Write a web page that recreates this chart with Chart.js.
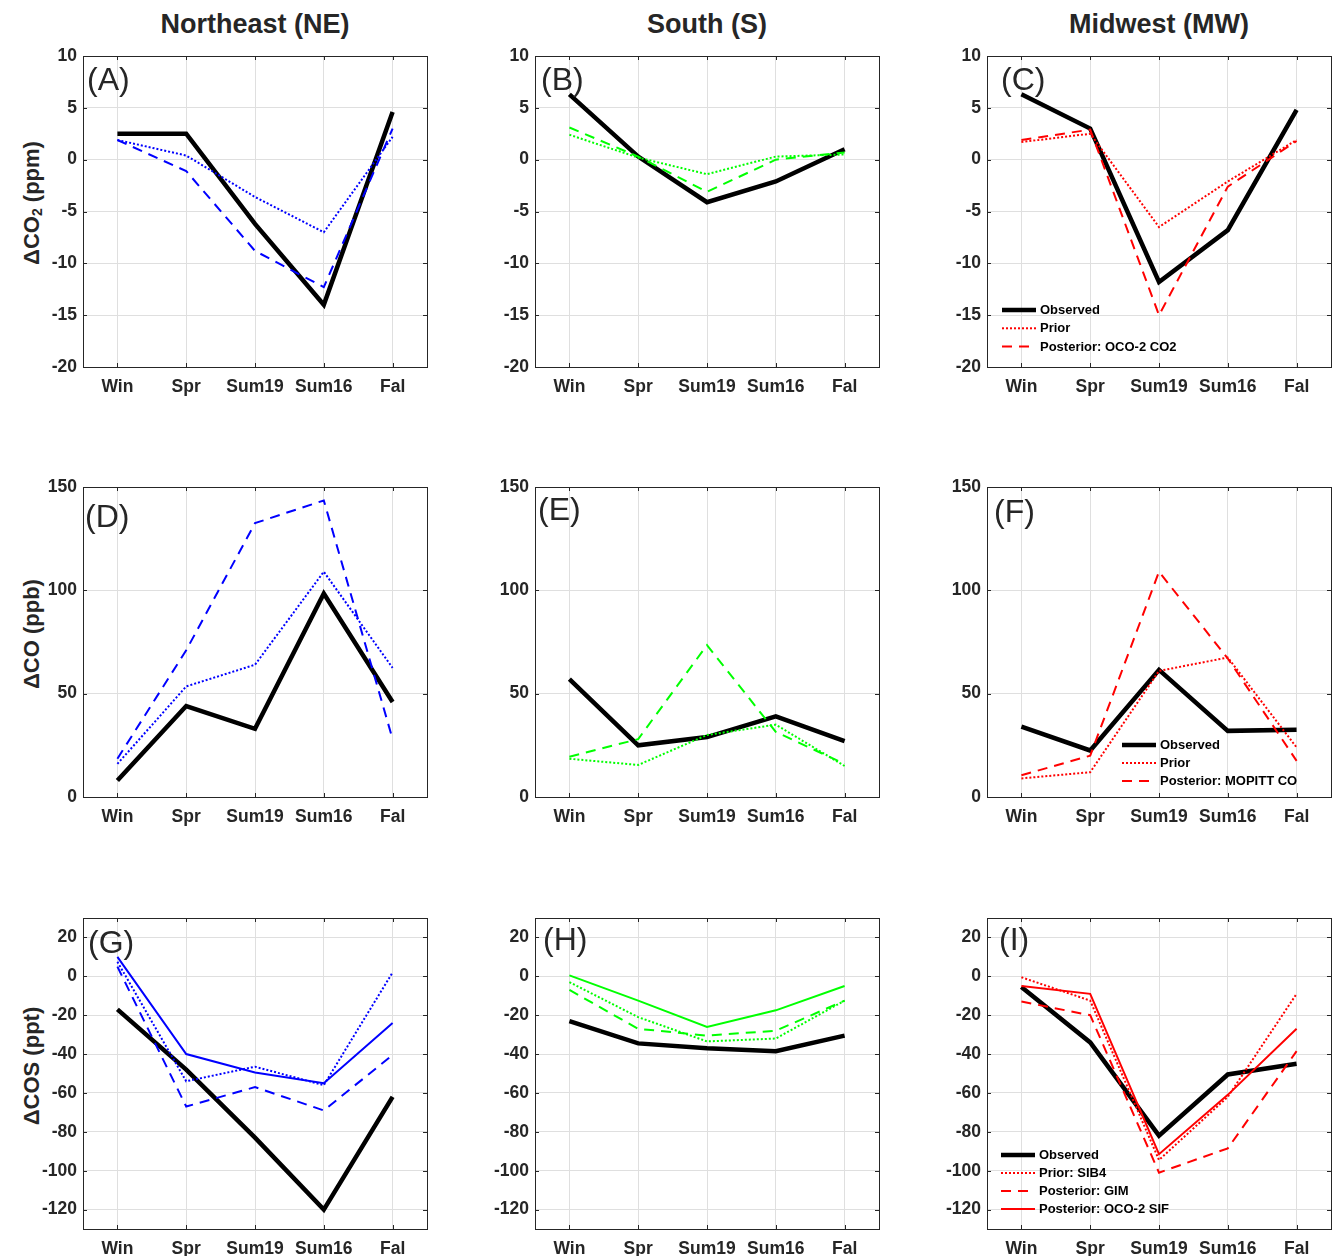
<!DOCTYPE html>
<html><head><meta charset="utf-8">
<script src="https://cdn.jsdelivr.net/npm/chart.js@4.4.1/dist/chart.umd.min.js"></script>
<style>
html,body{margin:0;padding:0;background:#fff;overflow:hidden;width:1332px;height:1256px;}
canvas{position:absolute;}
.title{position:absolute;font:bold 27px 'Liberation Sans',Arial,sans-serif;color:#262626;line-height:27px;white-space:nowrap;transform:translateX(-50%);}
.ylab{position:absolute;font:bold 22px 'Liberation Sans',Arial,sans-serif;color:#262626;line-height:22px;white-space:nowrap;transform:translate(-50%,-50%) rotate(-90deg);}
.ylab sub{font-size:14px;vertical-align:-3px;line-height:0;}
</style></head><body>
<script>
// ---------- DATA ----------
const seasons = ['Win', 'Spr', 'Sum19', 'Sum16', 'Fal'];

// ΔCO2 (ppm)
const co2_NE_obs   = [2.5, 2.5, -6.2, -14.0, 4.6];
const co2_NE_prior = [1.9, 0.4, -3.6, -7.0, 2.2];
const co2_NE_post  = [1.9, -1.1, -8.8, -12.3, 3.0];
const co2_S_obs    = [6.3, 0.3, -4.1, -2.1, 1.0];
const co2_S_prior  = [2.4, 0.2, -1.4, 0.3, 0.5];
const co2_S_post   = [3.1, 0.3, -3.1, 0.0, 0.7];
const co2_MW_obs   = [6.3, 3.0, -11.8, -6.8, 4.8];
const co2_MW_prior = [1.7, 2.5, -6.5, -2.1, 1.9];
const co2_MW_post  = [1.9, 2.9, -15.0, -2.6, 1.8];

// ΔCO (ppb)
const co_NE_obs   = [8, 44, 33, 98.5, 46];
const co_NE_prior = [16, 53.5, 64, 109, 62.5];
const co_NE_post  = [18.5, 71, 132.5, 143.5, 28];
const co_S_obs    = [57, 25, 29, 39, 27];
const co_S_prior  = [18.5, 15.5, 30, 35, 15];
const co_S_post   = [19.5, 28, 73.5, 31.5, 16];
const co_MW_obs   = [34, 22.5, 61.5, 32, 32.5];
const co_MW_prior = [9, 12, 61, 67.5, 24];
const co_MW_post  = [10.5, 20, 109, 67, 17.5];

// ΔCOS (ppt)
const cos_NE_obs   = [-17, -48, -83, -120, -62];
const cos_NE_prior = [7.5, -54, -46.5, -56, 2];
const cos_NE_gim   = [5, -67, -57, -69, -40.5];
const cos_NE_sif   = [10, -40, -49.5, -55, -24];
const cos_S_obs    = [-23, -34.5, -37, -38.5, -30.5];
const cos_S_prior  = [-3, -21, -33.5, -32, -12.5];
const cos_S_gim    = [-7, -27, -30.5, -28, -12.5];
const cos_S_sif    = [0.5, -12.5, -26, -17.5, -5];
const cos_MW_obs   = [-5.5, -34, -82, -50.5, -45];
const cos_MW_prior = [-0.5, -12.5, -94.5, -62, -9];
const cos_MW_gim   = [-13, -20, -101, -88.5, -38.5];
const cos_MW_sif   = [-5, -9, -91.5, -61, -27];

// tick labels
const ticksCO2 = [-20, -15, -10, -5, 0, 5, 10];
const ticksCO  = [0, 50, 100, 150];
const ticksCOS = [-120, -100, -80, -60, -40, -20, 0, 20];

const regionTitles = ['Northeast (NE)', 'South (S)', 'Midwest (MW)'];
const panelLetters = ['(A)', '(B)', '(C)', '(D)', '(E)', '(F)', '(G)', '(H)', '(I)'];
const labelsCO2 = ['Observed', 'Prior', 'Posterior: OCO-2 CO2'];
const labelsCO  = ['Observed', 'Prior', 'Posterior: MOPITT CO'];
const labelsCOS = ['Observed', 'Prior: SIB4', 'Posterior: GIM', 'Posterior: OCO-2 SIF'];

// ---------- LAYOUT / STYLE ----------
const FONT = "'Liberation Sans', Arial, sans-serif";
const colL = [83, 535, 987];
const rowT = [56, 487, 918];
const PW = 344;
const PH = [311, 310, 311];
const YW = 80, PT = 24, XH = 40, PR = 4;
const regionColor = ['#0000ff', '#00ff00', '#ff0000'];
const rowRange = [[-20, 10], [0, 150], [-130, 30]];
const rowTicks = [ticksCO2, ticksCO, ticksCOS];
const letterPos = [[4, 34], [6, 34], [14, 34], [2, 40], [3, 33], [7, 35], [5, 35], [8, 32], [12, 32]];
const legendCfg = {2: {x: 15, y: 254, dy: 18.3}, 5: {x: 135, y: 258, dy: 18}, 8: {x: 14, y: 237, dy: 18}};

const rowData = [
  [[co2_NE_obs, co2_NE_prior, co2_NE_post], [co2_S_obs, co2_S_prior, co2_S_post], [co2_MW_obs, co2_MW_prior, co2_MW_post]],
  [[co_NE_obs, co_NE_prior, co_NE_post], [co_S_obs, co_S_prior, co_S_post], [co_MW_obs, co_MW_prior, co_MW_post]],
  [[cos_NE_obs, cos_NE_prior, cos_NE_gim, cos_NE_sif], [cos_S_obs, cos_S_prior, cos_S_gim, cos_S_sif], [cos_MW_obs, cos_MW_prior, cos_MW_gim, cos_MW_sif]]
];
const rowLabels = [labelsCO2, labelsCO, labelsCOS];
const styleKinds = ['obs', 'prior', 'post', 'solid'];

function dsStyle(kind, color) {
  if (kind === 'obs') return {borderColor: '#000000', borderWidth: 4.5, borderDash: [], order: 1};
  if (kind === 'prior') return {borderColor: color, borderWidth: 2, borderDash: [2, 2], order: 0};
  if (kind === 'post') return {borderColor: color, borderWidth: 2, borderDash: [10, 7], order: 0};
  return {borderColor: color, borderWidth: 2, borderDash: [], order: 0};
}

const framePlugin = {
  id: 'frame',
  afterDraw(chart, args, opts) {
    const ctx = chart.ctx, a = chart.chartArea;
    ctx.save();
    ctx.strokeStyle = '#262626';
    ctx.lineWidth = 1;
    ctx.setLineDash([]);
    ctx.strokeRect(Math.round(a.left) + 0.5, Math.round(a.top) + 0.5, Math.round(a.right - a.left), Math.round(a.bottom - a.top));
    const tl = 4;
    ctx.beginPath();
    chart.scales.y.ticks.forEach(t => {
      const y = Math.round(chart.scales.y.getPixelForValue(t.value)) + 0.5;
      ctx.moveTo(a.left, y); ctx.lineTo(a.left + tl, y);
      ctx.moveTo(a.right, y); ctx.lineTo(a.right - tl, y);
    });
    chart.scales.x.ticks.forEach((t, i) => {
      const x = Math.round(chart.scales.x.getPixelForTick(i)) + 0.5;
      ctx.moveTo(x, a.bottom); ctx.lineTo(x, a.bottom - tl);
      ctx.moveTo(x, a.top); ctx.lineTo(x, a.top + tl);
    });
    ctx.stroke();
    // panel letter
    ctx.fillStyle = '#262626';
    ctx.font = '32px ' + FONT;
    ctx.textBaseline = 'alphabetic';
    ctx.textAlign = 'left';
    ctx.fillText(opts.letter, a.left + opts.lx, a.top + opts.ly);
    // legend
    if (opts.legend) {
      const L = opts.legend;
      chart.data.datasets.forEach((ds, i) => {
        const y = a.top + L.y + i * L.dy;
        const x0 = a.left + L.x;
        ctx.beginPath();
        ctx.strokeStyle = ds.borderColor;
        ctx.lineWidth = ds.borderWidth;
        ctx.setLineDash(ds.borderDash);
        ctx.moveTo(x0, y); ctx.lineTo(x0 + 34, y);
        ctx.stroke();
        ctx.setLineDash([]);
        ctx.fillStyle = '#000000';
        ctx.font = 'bold 13px ' + FONT;
        ctx.textBaseline = 'middle';
        ctx.fillText(ds.label, x0 + 38, y + 0.5);
      });
    }
    ctx.restore();
  }
};

// titles
regionTitles.forEach((t, c) => {
  const d = document.createElement('div');
  d.className = 'title';
  d.textContent = t;
  d.style.left = (colL[c] + PW / 2) + 'px';
  d.style.top = '11px';
  document.body.appendChild(d);
});
const yTitles = [['ΔCO', '2', ' (ppm)'], ['ΔCO (ppb)'], ['ΔCOS (ppt)']];
const yTitleCenter = [203, 634, 1066];
yTitles.forEach((parts, r) => {
  const d = document.createElement('div');
  d.className = 'ylab';
  if (parts.length === 3) {
    d.appendChild(document.createTextNode(parts[0]));
    const s = document.createElement('sub'); s.textContent = parts[1]; d.appendChild(s);
    d.appendChild(document.createTextNode(parts[2]));
  } else d.textContent = parts[0];
  d.style.left = '32px';
  d.style.top = yTitleCenter[r] + 'px';
  document.body.appendChild(d);
});

for (let r = 0; r < 3; r++) {
  for (let c = 0; c < 3; c++) {
    const idx = r * 3 + c;
    const cv = document.createElement('canvas');
    const w = YW + PW + PR, h = PT + PH[r] + XH;
    cv.width = w; cv.height = h;
    cv.style.width = w + 'px'; cv.style.height = h + 'px';
    cv.style.left = (colL[c] - YW) + 'px';
    cv.style.top = (rowT[r] - PT) + 'px';
    document.body.appendChild(cv);
    const series = rowData[r][c];
    const datasets = series.map((arr, i) => Object.assign({
      label: rowLabels[r][i],
      data: arr,
      pointRadius: 0,
      tension: 0,
      fill: false,
      borderJoinStyle: 'miter'
    }, dsStyle(styleKinds[i], regionColor[c])));
    const yt = rowTicks[r];
    new Chart(cv, {
      type: 'line',
      data: {labels: seasons, datasets},
      plugins: [framePlugin],
      options: {
        responsive: false,
        animation: false,
        events: [],
        devicePixelRatio: 1,
        layout: {padding: {left: 0, top: PT, right: PR, bottom: 0}},
        plugins: {
          legend: {display: false},
          tooltip: {enabled: false},
          frame: {letter: panelLetters[idx], lx: letterPos[idx][0], ly: letterPos[idx][1], legend: legendCfg[idx] || null}
        },
        scales: {
          x: {
            type: 'category', offset: true,
            grid: {color: '#dfdfdf', drawTicks: false, offset: false},
            border: {display: false},
            ticks: {color: '#262626', font: {family: FONT, size: 17.5, weight: 'bold'}, padding: 10, maxRotation: 0, autoSkip: false},
            afterFit: s => { s.height = XH; }
          },
          y: {
            min: rowRange[r][0], max: rowRange[r][1],
            grid: {color: '#dfdfdf', drawTicks: false},
            border: {display: false},
            ticks: {color: '#262626', font: {family: FONT, size: 17.5, weight: 'bold'}, padding: 6, callback: v => String(v)},
            afterBuildTicks: s => { s.ticks = yt.map(v => ({value: v})); },
            afterFit: s => { s.width = YW; }
          }
        }
      }
    });
  }
}
</script>
</body></html>
